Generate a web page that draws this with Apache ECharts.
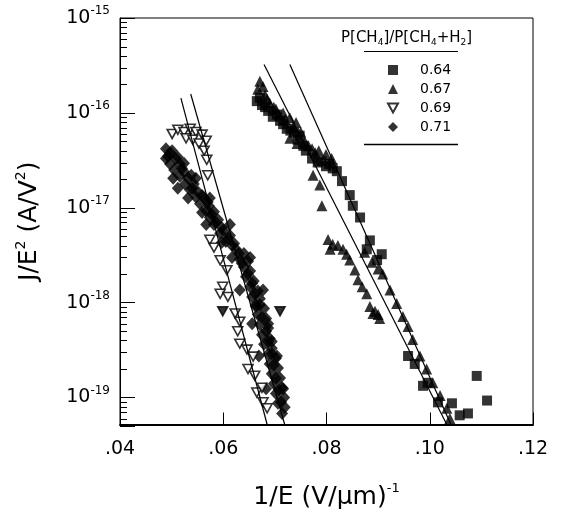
<!DOCTYPE html>
<html>
<head>
<meta charset="utf-8">
<script src="https://cdn.jsdelivr.net/npm/echarts@6/dist/echarts.min.js"></script>
<style>
html, body { margin: 0; padding: 0; background: #fff; }
#chart { width: 564px; height: 515px; }
</style>
</head>
<body>
<div id="chart"></div>
<script>
// P[CH4]/P[CH4+H2] ratios
const seriesNames = ['0.64', '0.67', '0.69', '0.71'];

// 1/E (V/um)^-1 , J/E^2 (A/V^2)
const ch4_064 = [
  [0.0665, 1.33e-16], [0.0671, 1.45e-16], [0.0675, 1.21e-16], [0.0681, 1.15e-16], [0.0687, 1.05e-16],
  [0.0696, 9.1e-17], [0.0704, 9.6e-17], [0.0710, 8.25e-17], [0.0716, 7.6e-17], [0.0723, 6.8e-17],
  [0.0730, 6.5e-17], [0.0737, 6.2e-17], [0.0744, 5.2e-17], [0.0748, 5.75e-17], [0.0755, 4.5e-17],
  [0.0760, 4.0e-17], [0.0772, 3.3e-17], [0.0783, 3.0e-17], [0.0790, 3.1e-17], [0.0799, 2.74e-17],
  [0.0805, 2.9e-17], [0.0812, 2.6e-17], [0.0820, 2.43e-17], [0.0830, 1.91e-17], [0.0845, 1.36e-17],
  [0.0851, 1.05e-17], [0.0865, 7.9e-18], [0.0884, 4.53e-18], [0.0878, 3.65e-18], [0.0907, 3.24e-18],
  [0.0898, 2.81e-18], [0.0958, 2.74e-19], [0.0971, 2.26e-19], [0.0987, 1.33e-19], [0.0996, 1.43e-19],
  [0.1016, 8.9e-20], [0.1043, 8.7e-20], [0.1058, 6.5e-20], [0.1074, 6.8e-20], [0.1091, 1.69e-19],
  [0.1111, 9.3e-20]
];

const ch4_067 = [
  [0.0671, 2.15e-16], [0.0667, 1.78e-16], [0.0677, 1.9e-16], [0.0681, 1.54e-16], [0.0685, 1.4e-16],
  [0.0690, 1.27e-16], [0.0698, 1.15e-16], [0.0702, 1.10e-16], [0.0708, 9.5e-17], [0.0716, 1.0e-16],
  [0.0720, 8.5e-17], [0.0729, 8.9e-17], [0.0735, 7.0e-17], [0.0741, 7.9e-17], [0.0750, 6.3e-17],
  [0.0729, 5.4e-17], [0.0743, 4.75e-17], [0.0758, 5.0e-17], [0.0765, 4.5e-17], [0.0772, 4.2e-17],
  [0.0778, 3.8e-17], [0.0785, 4.0e-17], [0.0799, 3.65e-17], [0.0810, 3.3e-17],
  [0.0774, 2.2e-17], [0.0787, 1.74e-17], [0.0791, 1.05e-17],
  [0.0803, 4.64e-18], [0.0807, 3.65e-18], [0.0812, 4.12e-18], [0.0822, 4.0e-18], [0.0832, 3.65e-18],
  [0.0839, 3.24e-18], [0.0845, 2.81e-18], [0.0855, 2.21e-18], [0.0861, 1.74e-18], [0.0869, 1.47e-18],
  [0.0878, 1.24e-18], [0.0884, 9.1e-19], [0.0894, 8.1e-19], [0.0900, 7.5e-19], [0.0890, 7.7e-19],
  [0.0903, 6.8e-19],
  [0.0874, 3.4e-18], [0.0888, 2.67e-18], [0.0900, 2.26e-18], [0.0909, 2.0e-18], [0.0923, 1.36e-18],
  [0.0936, 9.8e-19], [0.0948, 7.15e-19], [0.0958, 5.6e-19], [0.0967, 4.1e-19], [0.0981, 2.74e-19],
  [0.0994, 2.0e-19], [0.1006, 1.43e-19], [0.1020, 1.05e-19], [0.1033, 7.7e-20], [0.1039, 6.0e-20]
];

const ch4_069 = [
  [0.0501, 6.0e-17], [0.0512, 6.65e-17], [0.0524, 6.3e-17], [0.0536, 6.8e-17], [0.0547, 6.3e-17],
  [0.0559, 5.9e-17], [0.0528, 5.4e-17], [0.0541, 5.2e-17], [0.0553, 4.75e-17], [0.0567, 5.1e-17],
  [0.0563, 4.0e-17], [0.0568, 3.2e-17], [0.0570, 2.2e-17], [0.0574, 4.6e-18], [0.0582, 3.8e-18],
  [0.0594, 2.8e-18], [0.0607, 2.2e-18], [0.0599, 1.47e-18], [0.0594, 1.24e-18], [0.0609, 1.15e-18],
  [0.0623, 7.7e-19], [0.0632, 6.3e-19], [0.0628, 5.0e-19], [0.0632, 3.7e-19], [0.0646, 3.2e-19],
  [0.0658, 2.7e-19], [0.0648, 2.0e-19], [0.0661, 1.7e-19], [0.0665, 1.13e-19], [0.0675, 1.27e-19],
  [0.0677, 8.9e-20], [0.0685, 7.7e-20]
];
// the two points printed solid
const ch4_069_solid = [[0.0599, 8.1e-19], [0.0710, 8.1e-19]];

const ch4_071 = [
  [0.0489, 4.2e-17], [0.0501, 4.0e-17], [0.0497, 3.8e-17], [0.0493, 3.5e-17], [0.0508, 3.3e-17],
  [0.0512, 3.4e-17], [0.0497, 2.9e-17], [0.0516, 2.9e-17], [0.0505, 2.5e-17], [0.0520, 2.6e-17],
  [0.0524, 2.4e-17], [0.0516, 2.15e-17], [0.0532, 2.05e-17], [0.0538, 2.2e-17], [0.0526, 1.78e-17],
  [0.0543, 1.78e-17], [0.0536, 1.54e-17], [0.0540, 1.6e-17], [0.0551, 1.47e-17], [0.0547, 1.30e-17],
  [0.0559, 1.35e-17], [0.0563, 1.27e-17], [0.0555, 1.10e-17], [0.0570, 1.15e-17], [0.0572, 1.05e-17],
  [0.0567, 9.3e-18], [0.0582, 9.1e-18], [0.0578, 8.5e-18], [0.0574, 7.9e-18], [0.0590, 7.5e-18],
  [0.0586, 7.0e-18], [0.0582, 6.65e-18], [0.0597, 6.2e-18], [0.0600, 5.8e-18], [0.0594, 5.4e-18],
  [0.0613, 5.1e-18], [0.0609, 4.8e-18], [0.0605, 4.4e-18], [0.0621, 4.2e-18], [0.0617, 4.0e-18],
  [0.0625, 3.65e-18], [0.0640, 3.3e-18], [0.0630, 3.3e-18], [0.0632, 2.87e-18], [0.0648, 2.74e-18],
  [0.0636, 2.6e-18], [0.0640, 2.37e-18], [0.0652, 2.15e-18], [0.0648, 2.0e-18], [0.0644, 1.87e-18],
  [0.0659, 1.69e-18], [0.0656, 1.6e-18], [0.0652, 1.47e-18], [0.0667, 1.33e-18], [0.0661, 1.25e-18],
  [0.0656, 1.15e-18], [0.0671, 1.10e-18], [0.0663, 9.5e-19], [0.0671, 9.5e-19], [0.0679, 8.7e-19],
  [0.0667, 7.5e-19], [0.0683, 6.8e-19], [0.0675, 7.0e-19], [0.0671, 5.9e-19], [0.0687, 5.4e-19],
  [0.0683, 5.0e-19], [0.0675, 4.6e-19], [0.0690, 4.2e-19], [0.0687, 3.9e-19], [0.0679, 3.65e-19],
  [0.0694, 3.3e-19], [0.0694, 2.9e-19], [0.0687, 2.87e-19], [0.0702, 2.6e-19], [0.0690, 2.26e-19],
  [0.0698, 2.2e-19], [0.0706, 2.05e-19], [0.0694, 1.78e-19], [0.0710, 1.61e-19], [0.0702, 1.6e-19],
  [0.0698, 1.40e-19], [0.0714, 1.27e-19], [0.0708, 1.2e-19], [0.0702, 1.10e-19], [0.0718, 1.0e-19],
  [0.0712, 9.0e-20], [0.0706, 8.7e-20], [0.0719, 7.9e-20], [0.0714, 6.8e-20],
  // band edges
  [0.0489, 3.3e-17], [0.0503, 2.05e-17], [0.0512, 1.61e-17], [0.0532, 1.27e-17], [0.0559, 8.9e-18],
  [0.0567, 6.65e-18], [0.0597, 4.3e-18], [0.0617, 3.0e-18], [0.0632, 1.36e-18], [0.0656, 6.0e-19],
  [0.0669, 2.74e-19], [0.0683, 1.24e-19], [0.0524, 2.94e-17], [0.0547, 2.05e-17], [0.0574, 1.27e-17],
  [0.0613, 6.65e-18], [0.0652, 3.0e-18], [0.0677, 1.36e-18], [0.0663, 9.1e-19], [0.0687, 6.0e-19],
  [0.0694, 3.9e-19], [0.0704, 2.74e-19], [0.0716, 1.24e-19]
];

// straight Fowler-Nordheim fits (end points)
const fitLines = [
  [[0.0518, 1.43e-16], [0.0685, 5.2e-20]],
  [[0.0537, 1.58e-16], [0.0719, 5.2e-20]],
  [[0.0679, 3.24e-16], [0.1033, 5.2e-20]],
  [[0.0729, 3.24e-16], [0.1041, 5.2e-20]]
];

const xMin = 0.04, xMax = 0.12, xStep = 0.02;
const yMin = 5.2e-20, yMax = 1e-15;
const minorMult = [2, 3, 4, 5, 6, 7, 8, 9];
const decades = [-20, -19, -18, -17, -16];

const font = 'DejaVu Sans';
const chart = echarts.init(document.getElementById('chart'));

const minorTicks = [];
decades.forEach(function (d) {
  minorMult.forEach(function (m) {
    const v = m * Math.pow(10, d);
    if (v > yMin && v < yMax) minorTicks.push([xMin, v]);
  });
});

const downTri = 'path://M0,0 L10,0 L5,9 Z';

const series = [
  { name: '0.64', type: 'scatter', symbol: 'rect', symbolSize: 10, itemStyle: { color: '#000' }, data: ch4_064 },
  { name: '0.67', type: 'scatter', symbol: 'triangle', symbolSize: 11, itemStyle: { color: '#000' }, data: ch4_067 },
  { name: '0.71', type: 'scatter', symbol: 'diamond', symbolSize: [12, 13], itemStyle: { color: '#000' }, data: ch4_071 },
  {
    name: '0.69', type: 'scatter', symbol: downTri, symbolSize: [10, 9],
    itemStyle: { color: '#fff', borderColor: '#000', borderWidth: 1.6 },
    data: ch4_069.concat(ch4_069_solid.map(function (p) { return { value: p, itemStyle: { color: '#000' } }; }))
  }
];

fitLines.forEach(function (l) {
  series.push({
    type: 'line', data: l, symbol: 'none', silent: true, z: 3,
    lineStyle: { color: '#000', width: 1.2 }
  });
});

series.push({
  type: 'custom', silent: true, data: minorTicks, z: 4,
  renderItem: function (params, api) {
    const p = api.coord([api.value(0), api.value(1)]);
    const y = Math.round(p[1]) + 0.5;
    return { type: 'line', shape: { x1: p[0], y1: y, x2: p[0] + 7, y2: y }, style: { stroke: '#000', lineWidth: 1 } };
  }
});

const option = {
  animation: false,
  backgroundColor: '#fff',
  grid: { left: 120, top: 18, right: 31, bottom: 86, show: true, borderColor: '#000', borderWidth: 1 },
  legend: {
    data: seriesNames, orient: 'vertical', left: 382, top: 58,
    itemWidth: 10, itemHeight: 10, itemGap: 5, selectedMode: false,
    textStyle: { fontFamily: font, fontSize: 14, color: '#000', padding: [0, 0, 0, 17] }
  },
  xAxis: {
    type: 'value', min: xMin, max: xMax, interval: xStep,
    name: '{a|1/E (V/μm)}{b|-1}', nameLocation: 'middle', nameGap: 58,
    nameTextStyle: {
      rich: {
        a: { fontFamily: font, fontSize: 25, lineHeight: 30, color: '#000' },
        b: { fontFamily: font, fontSize: 13, lineHeight: 13, verticalAlign: 'top', color: '#000' }
      }
    },
    axisLine: { lineStyle: { color: '#000', width: 2 } },
    axisTick: { inside: true, length: 12, lineStyle: { color: '#000' } },
    axisLabel: {
      margin: 15, fontFamily: font, fontSize: 19, color: '#000',
      formatter: function (v) { return v.toFixed(2).replace(/^0/, ''); }
    },
    splitLine: { show: false }
  },
  yAxis: {
    type: 'log', logBase: 10, min: yMin, max: yMax,
    name: '{a|J/E}{b|2}{a| (A/V}{b|2}{a|)}', nameLocation: 'middle', nameGap: 76,
    nameTextStyle: {
      rich: {
        a: { fontFamily: font, fontSize: 25, lineHeight: 30, color: '#000' },
        b: { fontFamily: font, fontSize: 14, lineHeight: 14, verticalAlign: 'top', color: '#000' }
      }
    },
    axisLine: { lineStyle: { color: '#000', width: 1 } },
    axisTick: { inside: true, length: 15, lineStyle: { color: '#000' } },
    axisLabel: {
      margin: 10, color: '#000',
      formatter: function (v) {
        const e = Math.log10(v);
        if (Math.abs(e - Math.round(e)) > 1e-6) return '';
        return '{a|10}{b|' + Math.round(e) + '}';
      },
      rich: {
        a: { fontFamily: font, fontSize: 19, lineHeight: 26, color: '#000' },
        b: { fontFamily: font, fontSize: 12, lineHeight: 12, verticalAlign: 'top', color: '#000' }
      }
    },
    splitLine: { show: false }
  },
  graphic: [
    {
      type: 'text', left: 341, top: 31,
      style: {
        text: '{a|P[CH}{s|4}{a|]/P[CH}{s|4}{a|+H}{s|2}{a|]}',
        fill: '#000',
        rich: {
          a: { fontFamily: font, fontSize: 15, lineHeight: 18 },
          s: { fontFamily: font, fontSize: 9, lineHeight: 9, verticalAlign: 'bottom' }
        }
      }
    },
    { type: 'line', shape: { x1: 364, y1: 51.5, x2: 458, y2: 51.5 }, style: { stroke: '#000', lineWidth: 1 } },
    { type: 'line', shape: { x1: 364, y1: 144.5, x2: 458, y2: 144.5 }, style: { stroke: '#000', lineWidth: 1.5 } }
  ],
  series: series
};

chart.setOption(option, true);
</script>
</body>
</html>
